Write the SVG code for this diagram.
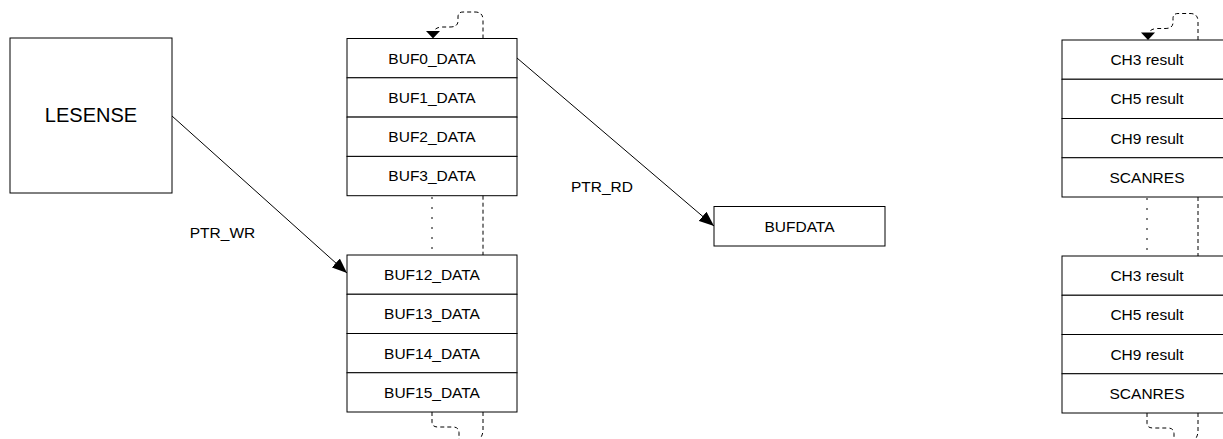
<svg xmlns="http://www.w3.org/2000/svg" width="1223" height="439" viewBox="0 0 1223 439">
<style>
.box{fill:#fff;stroke:#000;stroke-width:1}
.t{font-family:"Liberation Sans",Arial,sans-serif;font-size:15.5px;fill:#000;text-anchor:middle}
.big{font-size:20px}
.dash{fill:none;stroke:#000;stroke-width:1;stroke-dasharray:4 3}
.dot{fill:none;stroke:#000;stroke-width:1;stroke-dasharray:2 8}
.ln{fill:none;stroke:#000;stroke-width:1}
</style>
<defs>
<marker id="ah" markerUnits="userSpaceOnUse" markerWidth="16" markerHeight="12" refX="15" refY="6" orient="auto">
<path d="M0,0 L15,6 L0,12 z" fill="#000"/>
</marker>
<g id="toploop">
<path class="dash" d="M483,38.5 V20 Q483,12 475,12 H463 Q458,12 458,17 V21 Q458,27 450,27 H443 Q436,27 434,31"/>
<polygon points="426,31 440,31 433,38.5" fill="#000"/>
</g>
<g id="botloop">
<path class="dash" d="M432,412 V422 Q432,427 438,427 H453 Q459,427 459,433 V445"/>
<path class="dash" d="M483,412 V430 Q483,436 478,441"/>
</g>
</defs>

<g id="lesense">
<rect class="box" x="10" y="38" width="162" height="155"/>
<text class="t big" x="91" y="121.5">LESENSE</text>
</g>

<g id="buffer-top">
<rect class="box" x="347" y="38.5" width="170" height="39.3"/>
<text class="t" x="432" y="63.5">BUF0_DATA</text>
<rect class="box" x="347" y="77.8" width="170" height="39.3"/>
<text class="t" x="432" y="102.8">BUF1_DATA</text>
<rect class="box" x="347" y="117.1" width="170" height="39.3"/>
<text class="t" x="432" y="142.1">BUF2_DATA</text>
<rect class="box" x="347" y="156.4" width="170" height="39.3"/>
<text class="t" x="432" y="181.4">BUF3_DATA</text>
</g>

<g id="buffer-bottom">
<rect class="box" x="347" y="255" width="170" height="39.25"/>
<text class="t" x="432" y="280">BUF12_DATA</text>
<rect class="box" x="347" y="294.25" width="170" height="39.25"/>
<text class="t" x="432" y="319.25">BUF13_DATA</text>
<rect class="box" x="347" y="333.5" width="170" height="39.25"/>
<text class="t" x="432" y="358.5">BUF14_DATA</text>
<rect class="box" x="347" y="372.75" width="170" height="39.25"/>
<text class="t" x="432" y="397.75">BUF15_DATA</text>
</g>

<g id="bufdata">
<rect class="box" x="714" y="206.5" width="171" height="39.5"/>
<text class="t" x="799.5" y="232">BUFDATA</text>
</g>

<g id="result-top">
<rect class="box" x="1062" y="40" width="170" height="39.25"/>
<text class="t" x="1147" y="65">CH3 result</text>
<rect class="box" x="1062" y="79.25" width="170" height="39.25"/>
<text class="t" x="1147" y="104.25">CH5 result</text>
<rect class="box" x="1062" y="118.5" width="170" height="39.25"/>
<text class="t" x="1147" y="143.5">CH9 result</text>
<rect class="box" x="1062" y="157.75" width="170" height="39.25"/>
<text class="t" x="1147" y="182.75">SCANRES</text>
</g>

<g id="result-bottom">
<rect class="box" x="1062" y="256" width="170" height="39.25"/>
<text class="t" x="1147" y="281">CH3 result</text>
<rect class="box" x="1062" y="295.25" width="170" height="39.25"/>
<text class="t" x="1147" y="320.25">CH5 result</text>
<rect class="box" x="1062" y="334.5" width="170" height="39.25"/>
<text class="t" x="1147" y="359.5">CH9 result</text>
<rect class="box" x="1062" y="373.75" width="170" height="39.25"/>
<text class="t" x="1147" y="398.75">SCANRES</text>
</g>

<g id="connectors">
<line class="dot" x1="432" y1="197" x2="432" y2="255"/>
<line class="dash" x1="483" y1="195.7" x2="483" y2="255"/>
<line class="dot" x1="1147" y1="198" x2="1147" y2="256"/>
<line class="dash" x1="1198" y1="197" x2="1198" y2="256"/>
<use href="#toploop"/>
<use href="#botloop"/>
<use href="#toploop" transform="translate(715,1.5)"/>
<use href="#botloop" transform="translate(715,1)"/>
<line class="ln" x1="172" y1="116" x2="347" y2="273" marker-end="url(#ah)"/>
<line class="ln" x1="517" y1="58" x2="714" y2="226" marker-end="url(#ah)"/>
<text class="t" x="222.5" y="238">PTR_WR</text>
<text class="t" x="602" y="191.5">PTR_RD</text>
</g>
</svg>
